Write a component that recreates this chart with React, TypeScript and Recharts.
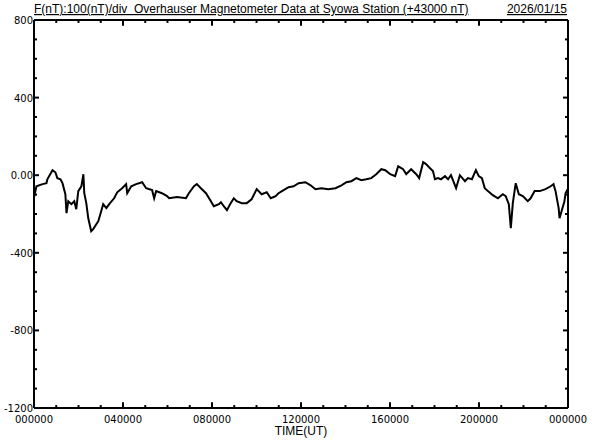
import React from "react";
import { LineChart, Line, XAxis, YAxis, ReferenceLine } from "recharts";

// Syowa Station Overhauser magnetometer, F (nT) minus 43000
const hours = [
  0, 0.11, 0.38, 0.56, 0.6, 0.83, 0.96, 1.05, 1.19, 1.28, 1.41, 1.46, 1.54, 1.68, 1.81, 1.9, 1.99, 2.13,
  2.22, 2.26, 2.35, 2.44, 2.57, 2.66, 2.8, 2.89, 3.02, 3.11, 3.25, 3.38, 3.6, 3.74, 3.96, 4.14, 4.19,
  4.37, 4.59, 4.86, 5.04, 5.31, 5.4, 5.49, 5.75, 5.98, 6.07, 6.43, 6.83, 6.96, 7.19, 7.32, 7.5, 7.73,
  7.95, 8.08, 8.31, 8.4, 8.53, 8.67, 8.84, 8.98, 9.11, 9.34, 9.56, 9.78, 10.01, 10.23, 10.46, 10.64,
  10.86, 10.99, 11.22, 11.44, 11.67, 11.89, 12.2, 12.43, 12.65, 12.92, 13.23, 13.55, 13.82, 14.04,
  14.26, 14.49, 14.71, 14.93, 15.16, 15.38, 15.61, 15.79, 16.01, 16.23, 16.37, 16.59, 16.73, 16.95,
  17.18, 17.31, 17.49, 17.62, 17.8, 17.93, 18.02, 18.16, 18.29, 18.47, 18.61, 18.74, 18.97, 19.14,
  19.37, 19.5, 19.68, 19.86, 19.99, 20.13, 20.26, 20.4, 20.62, 20.85, 21.07, 21.2, 21.34, 21.43,
  21.52, 21.65, 21.79, 21.97, 22.19, 22.32, 22.5, 22.73, 22.99, 23.22, 23.35, 23.44, 23.58, 23.62,
  23.71, 23.84, 23.89, 24,
];
const fieldNT = [
  -115, -57, -46, -41, -21, 26, 15, -15, -21, -41, -98, -196, -134, -149, -134, -175, -82, -57,
  5, -93, -144, -222, -289, -278, -253, -237, -186, -149, -170, -149, -119, -88, -67, -46, -93,
  -57, -46, -36, -67, -77, -119, -82, -93, -108, -119, -113, -119, -93, -57, -46, -67, -93,
  -134, -160, -149, -139, -160, -180, -144, -119, -134, -144, -144, -124, -72, -98, -88, -119,
  -108, -93, -77, -62, -57, -41, -36, -52, -72, -67, -72, -67, -52, -36,
  -31, -15, -26, -21, -15, 5, 31, 26, 5, -5, 46, 31, 5, 31,
  5, -15, 67, 57, 36, 21, -21, -15, -21, -5, -21, 0, -67, 0,
  -31, -15, -21, 26, -5, -15, -67, -82, -103, -119, -98, -108, -149, -273,
  -144, -41, -98, -108, -134, -119, -82, -82, -72, -57, -46, -82, -170, -222,
  -186, -134, -93, -70,
];

const xTicks = Array.from({ length: 25 }, (_, i) => i);
const xTickLabels = ["000000", "040000", "080000", "120000", "160000", "200000", "000000"];
const yTicks = Array.from({ length: 21 }, (_, i) => -1200 + i * 100);
const yTickLabels: Record<number, string> = {
  800: "800",
  400: "400",
  0: "0.00",
  [-400]: "-400",
  [-800]: "-800",
  [-1200]: "-1200",
};

const title = "F(nT):100(nT)/div  Overhauser Magnetometer Data at Syowa Station (+43000 nT)";
const dateLabel = "2026/01/15";

const data = hours.map((t, i) => ({ t, f: fieldNT[i] }));

const W = 592;
const H = 440;
const Y_MIN = -1200;
const Y_MAX = 800;
const tickFont = "'DejaVu Sans', sans-serif";
const textFont = "'Liberation Sans', Arial, sans-serif";

// inward hour ticks on the top and bottom frame, length given in nT (~5 nT per px)
const innerHours = xTicks.filter((h) => h > 0 && h < 24);
const tickLenNT = (h: number) => (h % 4 === 0 ? 30 : 15);

function TimeLabel(props: any) {
  const { x, y, payload } = props;
  const v = Number(payload.value);
  if (v % 4 !== 0) return <g />;
  return (
    <text x={x} y={y + 15} textAnchor="middle" fontSize={10} fontFamily={tickFont} fill="#000">
      {xTickLabels[v / 4]}
    </text>
  );
}

function LeftTick(props: any) {
  const { x, y, payload } = props;
  const v = payload.value;
  const major = v % 400 === 0;
  const edge = v === Y_MAX || v === Y_MIN;
  return (
    <g>
      {!edge && <line x1={x} x2={x + (major ? 5 : 3)} y1={y} y2={y} stroke="#000" strokeWidth={2} />}
      {major && (
        <text x={x - 1} y={y + 4} textAnchor="end" fontSize={10} fontFamily={tickFont} fill="#000">
          {yTickLabels[v]}
        </text>
      )}
    </g>
  );
}

function RightTick(props: any) {
  const { x, y, payload } = props;
  const v = payload.value;
  if (v === Y_MAX || v === Y_MIN) return <g />;
  const major = v % 400 === 0;
  return <line x1={x} x2={x - (major ? 5 : 3)} y1={y} y2={y} stroke="#000" strokeWidth={2} />;
}

export default function App() {
  const axisLine = { stroke: "#000", strokeWidth: 2 };
  return (
    <div style={{ position: "absolute", left: 0, top: 0, width: W, height: H, background: "#fff" }}>
      <LineChart width={W} height={H} data={data} margin={{ top: 0, right: 0, bottom: 0, left: 0 }}>
        <XAxis
          dataKey="t"
          type="number"
          domain={[0, 24]}
          allowDataOverflow
          ticks={xTicks}
          interval={0}
          height={32}
          tickSize={0}
          tickMargin={0}
          tickLine={false}
          axisLine={axisLine}
          tick={<TimeLabel />}
        />
        <XAxis
          xAxisId="top"
          orientation="top"
          type="number"
          domain={[0, 24]}
          height={20}
          tickLine={false}
          axisLine={axisLine}
          tick={false}
        />
        <YAxis
          type="number"
          domain={[Y_MIN, Y_MAX]}
          allowDataOverflow
          ticks={yTicks}
          interval={0}
          width={34}
          tickSize={0}
          tickMargin={0}
          tickLine={false}
          axisLine={axisLine}
          tick={<LeftTick />}
        />
        <YAxis
          yAxisId="right"
          orientation="right"
          type="number"
          domain={[Y_MIN, Y_MAX]}
          allowDataOverflow
          ticks={yTicks}
          interval={0}
          width={24}
          tickSize={0}
          tickMargin={0}
          tickLine={false}
          axisLine={axisLine}
          tick={<RightTick />}
        />
        {innerHours.map((h) => (
          <ReferenceLine
            key={`b${h}`}
            segment={[
              { x: h, y: Y_MIN },
              { x: h, y: Y_MIN + tickLenNT(h) },
            ]}
            stroke="#000"
            strokeWidth={2}
            ifOverflow="visible"
          />
        ))}
        {innerHours.map((h) => (
          <ReferenceLine
            key={`t${h}`}
            segment={[
              { x: h, y: Y_MAX },
              { x: h, y: Y_MAX - tickLenNT(h) },
            ]}
            stroke="#000"
            strokeWidth={2}
            ifOverflow="visible"
          />
        ))}
        <Line
          dataKey="f"
          type="linear"
          stroke="#000"
          strokeWidth={2}
          dot={false}
          isAnimationActive={false}
        />
      </LineChart>
      <svg
        width={W}
        height={H}
        style={{ position: "absolute", left: 0, top: 0, pointerEvents: "none" }}
      >
        <text
          x={34}
          y={13}
          fontSize={12}
          fontFamily={textFont}
          textDecoration="underline"
          fill="#000"
          style={{ whiteSpace: "pre" }}
        >
          {title}
        </text>
        <text
          x={567}
          y={13}
          textAnchor="end"
          fontSize={12}
          fontFamily={textFont}
          textDecoration="underline"
          fill="#000"
        >
          {dateLabel}
        </text>
        <text x={301} y={435} textAnchor="middle" fontSize={12} fontFamily={textFont} fill="#000">
          TIME(UT)
        </text>
      </svg>
    </div>
  );
}
